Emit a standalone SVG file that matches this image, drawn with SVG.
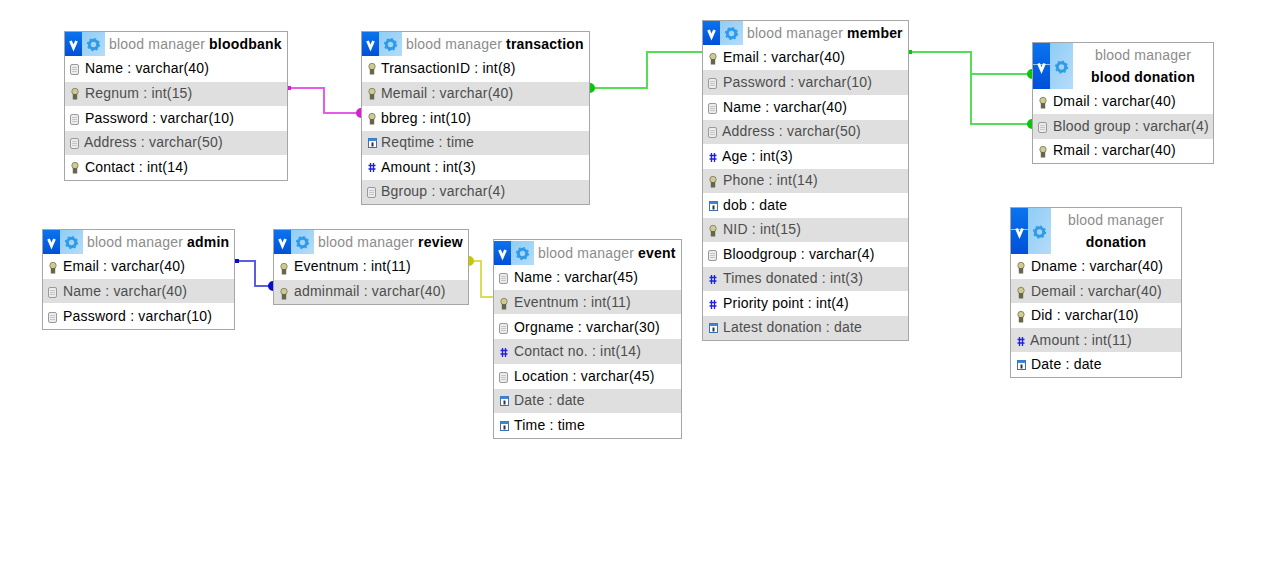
<svg xmlns="http://www.w3.org/2000/svg" width="1274" height="583" viewBox="0 0 1274 583">
<style>
text{font-family:"Liberation Sans",Arial,sans-serif;font-size:14px;fill:#000;letter-spacing:.2px}
.box{fill:#fff;stroke:#a6a6a6;stroke-width:1}
.alt{fill:#dfdfdf}
.altt{fill:#4d4d4d}
.hd{fill:#8c8c8c}
.tb{font-weight:bold;fill:#000}
.c{fill:none;stroke-width:2;stroke-linejoin:miter}
</style>
<defs>
<linearGradient id="blue" x1="0" y1="0" x2="0" y2="1"><stop offset="0" stop-color="#0a74ee"/><stop offset="1" stop-color="#0050d8"/></linearGradient>
<linearGradient id="light" x1="0" y1="0" x2="1" y2="1"><stop offset="0" stop-color="#8fcdf6"/><stop offset="1" stop-color="#b5dcf8"/></linearGradient>
<g id="gear"><circle r="4.200" fill="none" stroke="#2f9be8" stroke-width="3"/><circle r="6" fill="none" stroke="#2f9be8" stroke-width="1.300" stroke-dasharray="2 2.710"/></g>
<g id="logo"><rect width="17" height="24" fill="url(#blue)"/><rect x="17" width="23" height="24" fill="url(#light)"/><path d="M5.500 9L8.500 16L11.500 9" fill="none" stroke="#fff" stroke-width="2.800"/><use href="#gear" x="28.500" y="12.500"/></g>
<g id="logoT"><rect width="17" height="46" fill="url(#blue)"/><rect x="17" width="23" height="46" fill="url(#light)"/><rect y="21" width="17" height="1" fill="#8fc4f8"/><path d="M5.500 20.500L8.500 27.500L11.500 20.500" fill="none" stroke="#fff" stroke-width="2.800"/><use href="#gear" x="28.500" y="24"/></g>
<g id="key"><circle cx="4" cy="3.500" r="3.200" fill="#cfcb90" stroke="#77775a" stroke-width=".8"/><rect x="1.800" y="6" width="4.400" height="5.500" fill="#66664c"/></g>
<g id="col"><rect x=".5" y=".5" width="8" height="10" rx="1.500" fill="#ececec" stroke="#9a9a9a"/><path d="M2 3.500H7M2 5.500H7M2 7.500H7" stroke="#bbb" stroke-width=".8"/></g>
<g id="num"><path d="M2.500 1V10M5.500 1V10M.5 3.500H7.500M.5 7H7.500" stroke="#2020e0" stroke-width="1.300" fill="none"/></g>
<g id="cal"><rect x=".5" y=".5" width="8" height="9" fill="#fff" stroke="#3d6fb8"/><rect x=".5" y=".5" width="8" height="2.500" fill="#3d85d8"/><rect x="3.500" y="4.500" width="2" height="4" fill="#333"/></g>
</defs>

<g id="connectors">
<path class="c" d="M288 88H324V113H361" stroke="#e65ce6"/>
<path d="M287 86h4v4h-4zM361 108a5 5 0 0 0 0 10z" fill="#d61fd6"/>
<path class="c" d="M590 88H647V52H702" stroke="#55dd55"/>
<path d="M590 83a5 5 0 0 1 0 10h-1v-10zM702 50h2v4h-2z" fill="#0dc40d"/>
<path class="c" d="M909 52H971V74H1032" stroke="#55dd55"/>
<path class="c" d="M909 52H971V124H1032" stroke="#55dd55"/>
<path d="M908 50h4v4h-4zM1032 69a5 5 0 0 0 0 10zM1032 119a5 5 0 0 0 0 10z" fill="#0dc40d"/>
<path class="c" d="M235 261H255V286H273" stroke="#5c5ce0"/>
<path d="M235 259h4v4h-4zM273 281a5 5 0 0 0 0 10z" fill="#0a0ad0"/>
<path class="c" d="M469 261H481V297H493" stroke="#dddd55"/>
<path d="M469 256a5 5 0 0 1 0 10zM493 295h2v4h-2z" fill="#c8c800"/>
</g>

<g id="bloodbank">
<rect class="box" x="64.500" y="31.500" width="223" height="149"/>
<rect class="alt" x="65" y="82" width="222" height="24"/><rect class="alt" x="65" y="131" width="222" height="24"/>
<use href="#logo" x="65" y="32"/>
<text x="109" y="49" class="hd">blood manager <tspan class="tb">bloodbank</tspan></text>
<use href="#col" x="70" y="64"/><text x="85" y="73">Name : varchar(40)</text>
<use href="#key" x="71" y="88"/><text x="85" y="98" class="altt">Regnum : int(15)</text>
<use href="#col" x="70" y="114"/><text x="85" y="123">Password : varchar(10)</text>
<use href="#col" x="70" y="138"/><text x="84" y="147" class="altt">Address : varchar(50)</text>
<use href="#key" x="71" y="162"/><text x="85" y="172">Contact : int(14)</text>
</g>

<g id="transaction">
<rect class="box" x="361.500" y="31.500" width="228" height="173"/>
<rect class="alt" x="362" y="82" width="227" height="24"/><rect class="alt" x="362" y="131" width="227" height="24"/><rect class="alt" x="362" y="180" width="227" height="24"/>
<use href="#logo" x="362" y="32"/>
<text x="406" y="49" class="hd">blood manager <tspan class="tb">transaction</tspan></text>
<use href="#key" x="368" y="63"/><text x="381" y="73">TransactionID : int(8)</text>
<use href="#key" x="368" y="88"/><text x="381" y="98" class="altt">Memail : varchar(40)</text>
<use href="#key" x="368" y="113"/><text x="381" y="123">bbreg : int(10)</text>
<use href="#cal" x="368" y="138"/><text x="381" y="147" class="altt">Reqtime : time</text>
<use href="#num" x="368" y="162"/><text x="381" y="172">Amount : int(3)</text>
<use href="#col" x="367" y="187"/><text x="381" y="196" class="altt">Bgroup : varchar(4)</text>
</g>

<g id="member">
<rect class="box" x="702.500" y="20.500" width="206" height="320"/>
<rect class="alt" x="703" y="70" width="205" height="25"/><rect class="alt" x="703" y="120" width="205" height="24"/><rect class="alt" x="703" y="169" width="205" height="24"/><rect class="alt" x="703" y="218" width="205" height="24"/><rect class="alt" x="703" y="267" width="205" height="24"/><rect class="alt" x="703" y="316" width="205" height="24"/>
<use href="#logo" x="703" y="21"/>
<text x="747" y="38" class="hd">blood manager <tspan class="tb">member</tspan></text>
<use href="#key" x="709" y="53"/><text x="723" y="62">Email : varchar(40)</text>
<use href="#col" x="708" y="78"/><text x="723" y="87" class="altt">Password : varchar(10)</text>
<use href="#col" x="708" y="103"/><text x="723" y="112">Name : varchar(40)</text>
<use href="#col" x="708" y="127"/><text x="722" y="136" class="altt">Address : varchar(50)</text>
<use href="#num" x="709" y="152"/><text x="722" y="161">Age : int(3)</text>
<use href="#key" x="709" y="176"/><text x="723" y="185" class="altt">Phone : int(14)</text>
<use href="#cal" x="709" y="201"/><text x="723" y="210">dob : date</text>
<use href="#key" x="709" y="225"/><text x="723" y="234" class="altt">NID : int(15)</text>
<use href="#col" x="708" y="250"/><text x="723" y="259">Bloodgroup : varchar(4)</text>
<use href="#num" x="709" y="274"/><text x="723" y="283" class="altt">Times donated : int(3)</text>
<use href="#num" x="709" y="299"/><text x="723" y="308">Priority point : int(4)</text>
<use href="#cal" x="709" y="323"/><text x="723" y="332" class="altt">Latest donation : date</text>
</g>

<g id="blood-donation">
<rect class="box" x="1032.500" y="42.500" width="181" height="121"/>
<rect class="alt" x="1033" y="114" width="180" height="25"/>
<use href="#logoT" x="1033" y="43"/>
<text x="1143" y="60" class="hd" text-anchor="middle">blood manager</text>
<text x="1143" y="82" class="tb" text-anchor="middle">blood donation</text>
<use href="#key" x="1039" y="97"/><text x="1053" y="106">Dmail : varchar(40)</text>
<use href="#col" x="1038" y="122"/><text x="1053" y="131" class="altt">Blood group : varchar(4)</text>
<use href="#key" x="1039" y="146"/><text x="1053" y="155">Rmail : varchar(40)</text>
</g>

<g id="donation">
<rect class="box" x="1010.500" y="207.500" width="171" height="170"/>
<rect class="alt" x="1011" y="279" width="170" height="24"/><rect class="alt" x="1011" y="328" width="170" height="24"/>
<use href="#logoT" x="1011" y="208"/>
<text x="1116" y="225" class="hd" text-anchor="middle">blood manager</text>
<text x="1116" y="247" class="tb" text-anchor="middle">donation</text>
<use href="#key" x="1017" y="262"/><text x="1031" y="271">Dname : varchar(40)</text>
<use href="#key" x="1017" y="287"/><text x="1031" y="296" class="altt">Demail : varchar(40)</text>
<use href="#key" x="1017" y="311"/><text x="1031" y="320">Did : varchar(10)</text>
<use href="#num" x="1017" y="336"/><text x="1030" y="345" class="altt">Amount : int(11)</text>
<use href="#cal" x="1017" y="360"/><text x="1031" y="369">Date : date</text>
</g>

<g id="admin">
<rect class="box" x="42.500" y="229.500" width="192" height="100"/>
<rect class="alt" x="43" y="279" width="191" height="24"/>
<use href="#logo" x="43" y="230"/>
<text x="87" y="247" class="hd">blood manager <tspan class="tb">admin</tspan></text>
<use href="#key" x="49" y="262"/><text x="63" y="271">Email : varchar(40)</text>
<use href="#col" x="48" y="287"/><text x="63" y="296" class="altt">Name : varchar(40)</text>
<use href="#col" x="48" y="312"/><text x="63" y="321">Password : varchar(10)</text>
</g>

<g id="review">
<rect class="box" x="273.500" y="229.500" width="195" height="75"/>
<rect class="alt" x="274" y="280" width="194" height="24"/>
<use href="#logo" x="274" y="230"/>
<text x="318" y="247" class="hd">blood manager <tspan class="tb">review</tspan></text>
<use href="#key" x="280" y="263"/><text x="294" y="271">Eventnum : int(11)</text>
<use href="#key" x="280" y="288"/><text x="294" y="296" class="altt">adminmail : varchar(40)</text>
</g>

<g id="event">
<rect class="box" x="493.500" y="239.500" width="188" height="199"/>
<rect class="alt" x="494" y="290" width="187" height="24"/><rect class="alt" x="494" y="339" width="187" height="25"/><rect class="alt" x="494" y="389" width="187" height="24"/>
<use href="#logo" x="494" y="241"/>
<text x="538" y="258" class="hd">blood manager <tspan class="tb">event</tspan></text>
<use href="#col" x="499" y="273"/><text x="514" y="282">Name : varchar(45)</text>
<use href="#key" x="500" y="298"/><text x="514" y="307" class="altt">Eventnum : int(11)</text>
<use href="#col" x="499" y="323"/><text x="514" y="332">Orgname : varchar(30)</text>
<use href="#num" x="500" y="347"/><text x="514" y="356" class="altt">Contact no. : int(14)</text>
<use href="#col" x="499" y="372"/><text x="514" y="381">Location : varchar(45)</text>
<use href="#cal" x="500" y="396"/><text x="514" y="405" class="altt">Date : date</text>
<use href="#cal" x="500" y="421"/><text x="514" y="430">Time : time</text>
</g>
</svg>
